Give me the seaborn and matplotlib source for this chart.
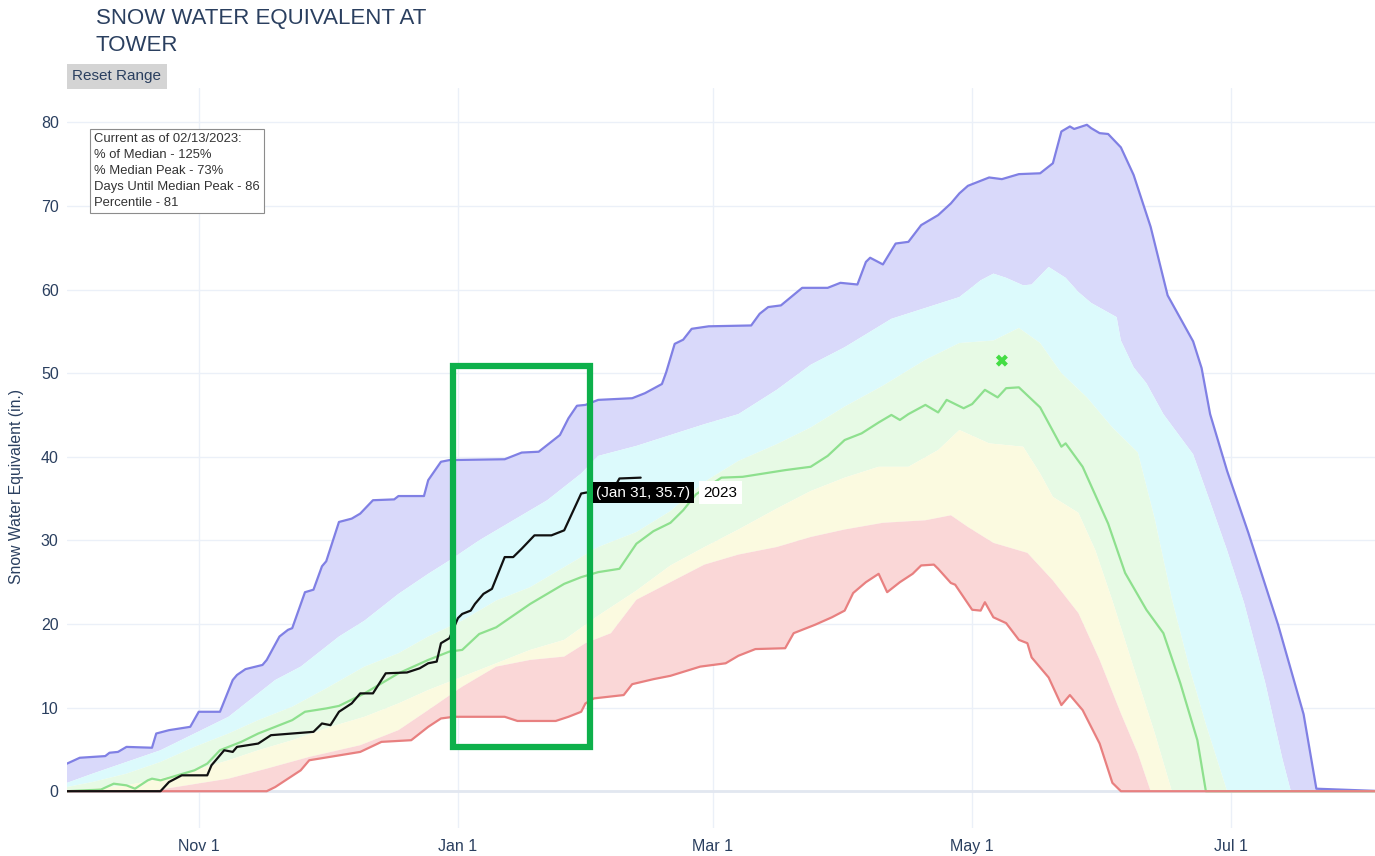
import numpy as np
import pandas as pd
import matplotlib
matplotlib.use("Agg")
import matplotlib.pyplot as plt
import matplotlib.dates as mdates
from matplotlib.patches import Rectangle
import seaborn as sns

# days counted from Oct 1 of the water year (plotted on a leap-year calendar)
max_day = [0, 3, 9, 10, 12, 14, 20, 21, 24, 29, 31, 36, 39, 40, 42, 46, 47, 50, 52, 53,
           56, 58, 60, 61, 64, 67, 69, 72, 77, 78, 84, 85, 88, 90, 103, 107, 111, 113, 116, 118,
           120, 122, 125, 133, 136, 140, 141, 143, 145, 147, 151, 161, 163, 165, 168, 173, 179, 182, 186, 188,
           189, 192, 195, 198, 201, 205, 208, 210, 212, 217, 220, 224, 229, 232, 234, 236, 237, 240, 241, 243,
           245, 248, 251, 255, 259, 265, 267, 269, 273, 278, 285, 291, 294, 310]
max_swe = [3.3, 4.0, 4.2, 4.6, 4.7, 5.3, 5.2, 6.9, 7.3, 7.7, 9.5, 9.5, 13.3, 13.9, 14.6, 15.1, 15.7, 18.5, 19.3, 19.5,
           23.8, 24.1, 26.9, 27.5, 32.2, 32.6, 33.2, 34.8, 34.9, 35.3, 35.3, 37.2, 39.4, 39.6, 39.7, 40.5, 40.6, 41.4, 42.6, 44.6,
           46.1, 46.2, 46.8, 47.0, 47.6, 48.7, 50.1, 53.5, 54.0, 55.3, 55.6, 55.7, 57.1, 57.9, 58.1, 60.2, 60.2, 60.8, 60.6, 63.3,
           63.8, 63.0, 65.5, 65.7, 67.7, 68.9, 70.3, 71.5, 72.4, 73.4, 73.2, 73.8, 73.9, 75.1, 78.9, 79.5, 79.2, 79.7, 79.3, 78.7,
           78.6, 77.0, 73.7, 67.5, 59.3, 53.8, 50.6, 45.1, 38.3, 30.9, 19.9, 9.2, 0.3, 0.0]

p90_day = [0, 6, 14, 22, 30, 38, 44, 49, 55, 60, 64, 70, 78, 85, 90, 97, 105, 113, 121, 125,
           134, 142, 150, 158, 167, 175, 183, 194, 202, 210, 215, 218, 221, 225, 227, 231, 235, 238, 241, 247,
           248, 251, 254, 258, 265, 269, 273, 277, 282, 286, 288, 310]
p90_swe = [1.0, 2.1, 3.5, 4.9, 6.9, 8.9, 11.3, 13.3, 14.9, 16.9, 18.5, 20.4, 23.6, 26.0, 27.6, 30.0, 32.4, 34.8, 38.0, 40.1,
           41.3, 42.6, 43.9, 45.1, 48.0, 51.0, 53.1, 56.5, 57.8, 59.1, 61.1, 61.9, 61.4, 60.5, 60.6, 62.7, 61.4, 59.7, 58.4, 56.7,
           53.9, 50.7, 48.8, 45.1, 40.3, 34.6, 28.8, 22.5, 12.9, 3.9, 0.0, 0.0]

p70_day = [0, 6, 14, 22, 30, 38, 45, 53, 61, 70, 78, 85, 93, 101, 109, 117, 125, 134, 142, 150,
           158, 167, 175, 183, 192, 202, 210, 218, 224, 229, 234, 240, 246, 252, 256, 260, 264, 268, 273, 310]
p70_swe = [0.5, 1.1, 2.1, 3.5, 5.3, 6.9, 8.5, 10.1, 12.3, 14.9, 16.5, 18.5, 20.4, 22.8, 24.4, 26.8, 29.2, 31.0, 33.5, 37.0,
           39.5, 41.5, 43.5, 46.0, 48.5, 51.6, 53.6, 53.9, 55.4, 53.6, 50.0, 47.1, 43.5, 40.5, 32.5, 23.0, 15.0, 8.0, 0.0, 0.0]

p30_day = [0, 14, 22, 30, 38, 45, 53, 62, 70, 78, 85, 93, 101, 109, 117, 125, 134, 142, 150, 158,
           167, 175, 183, 191, 198, 205, 210, 217, 225, 229, 232, 238, 242, 246, 251, 256, 260, 310]
p30_swe = [0.0, 0.7, 1.5, 2.5, 3.7, 4.9, 6.1, 7.7, 8.9, 10.5, 12.1, 13.7, 15.3, 16.9, 18.1, 21.0, 24.0, 27.0, 29.2, 31.3,
           33.8, 35.9, 37.5, 38.8, 38.8, 40.8, 43.2, 41.6, 41.2, 38.0, 35.2, 33.3, 28.8, 22.8, 14.8, 6.9, 0.0, 0.0]

p10_day = [0, 18, 22, 38, 47, 57, 69, 78, 85, 93, 101, 109, 117, 122, 128, 134, 142, 150, 158, 167,
           175, 183, 192, 202, 208, 212, 218, 226, 232, 238, 243, 248, 252, 255, 310]
p10_swe = [0.0, 0.0, 0.2, 1.5, 2.7, 4.1, 5.5, 7.3, 9.7, 12.5, 14.9, 15.7, 16.1, 17.7, 18.9, 22.9, 25.0, 27.1, 28.3, 29.2,
           30.4, 31.3, 32.1, 32.4, 33.0, 31.6, 29.7, 28.5, 25.2, 21.3, 15.7, 9.3, 4.5, 0.0, 0.0]

median_day = [0, 8, 11, 14, 16, 19, 20, 22, 26, 30, 33, 36, 41, 45, 49, 53, 56, 61, 64, 70,
              78, 85, 90, 93, 97, 101, 105, 109, 113, 117, 121, 125, 130, 134, 138, 142, 145, 148, 154, 159,
              169, 175, 179, 183, 187, 191, 194, 196, 198, 202, 205, 207, 211, 213, 216, 219, 221, 224, 229, 234,
              235, 239, 245, 249, 254, 258, 262, 266, 268, 310]
median_swe = [0.0, 0.2, 0.9, 0.7, 0.3, 1.3, 1.5, 1.3, 1.9, 2.5, 3.3, 4.9, 5.9, 6.9, 7.7, 8.5, 9.5, 9.9, 10.2, 11.7,
              14.1, 15.7, 16.7, 16.9, 18.8, 19.6, 21.0, 22.4, 23.6, 24.8, 25.6, 26.2, 26.6, 29.6, 31.1, 32.1, 33.6, 35.5, 37.5, 37.6,
              38.4, 38.8, 40.1, 42.0, 42.8, 44.1, 45.0, 44.4, 45.1, 46.2, 45.3, 46.8, 45.8, 46.3, 48.0, 47.1, 48.2, 48.3, 45.9, 41.2,
              41.6, 38.8, 32.0, 26.1, 21.7, 18.9, 12.9, 6.1, 0.0, 0.0]

min_day = [0, 47, 49, 55, 57, 69, 74, 81, 85, 88, 91, 103, 106, 115, 118, 121, 122, 124, 131, 133,
           138, 142, 149, 155, 158, 162, 169, 171, 176, 180, 183, 185, 188, 191, 193, 196, 199, 201, 204, 205,
           208, 209, 213, 215, 216, 218, 221, 224, 226, 227, 231, 234, 236, 239, 243, 246, 248, 310]
min_swe = [0.0, 0.0, 0.5, 2.5, 3.7, 4.7, 5.9, 6.1, 7.7, 8.7, 8.9, 8.9, 8.4, 8.4, 8.9, 9.5, 10.5, 11.1, 11.5, 12.8,
           13.4, 13.8, 14.9, 15.3, 16.2, 17.0, 17.1, 18.9, 19.9, 20.8, 21.6, 23.7, 25.0, 26.0, 23.8, 25.0, 26.0, 27.0, 27.1, 26.6,
           24.9, 24.7, 21.7, 21.6, 22.6, 20.8, 20.1, 18.1, 17.7, 16.0, 13.6, 10.3, 11.5, 9.7, 5.7, 1.0, 0.0, 0.0]

wy2023_day = [0, 22, 24, 27, 33, 34, 37, 39, 40, 45, 48, 58, 60, 62, 64, 67, 69, 72, 75, 80,
              83, 85, 87, 88, 90, 92, 93, 95, 96, 98, 100, 103, 105, 107, 110, 114, 117, 121, 122, 126,
              129, 130, 135]
wy2023_swe = [0.0, 0.0, 1.1, 1.9, 1.9, 3.1, 4.9, 4.7, 5.3, 5.7, 6.7, 7.1, 8.1, 7.9, 9.5, 10.5, 11.7, 11.7, 14.1, 14.2,
              14.7, 15.3, 15.5, 17.7, 18.3, 20.7, 21.2, 21.6, 22.4, 23.6, 24.2, 28.0, 28.0, 29.0, 30.6, 30.6, 31.2, 35.6, 35.7, 36.0,
              36.5, 37.4, 37.5]

peak_day, peak_swe = 220, 51.5          # green x marker
hover_day, hover_swe = 122, 35.7        # Jan 31 hover label
box_day = [90.8, 123.1]                 # green highlight box
box_swe = [5.3, 50.8]

tick_day = [31, 92, 152, 213, 274]
tick_text = ['Nov 1', 'Jan 1', 'Mar 1', 'May 1', 'Jul 1']

info_lines = ['Current as of 02/13/2023:', '% of Median - 125%', '% Median Peak - 73%',
              'Days Until Median Peak - 86', 'Percentile - 81']

base = pd.Timestamp('2019-10-01')


def to_dates(days):
    return base + pd.to_timedelta(np.asarray(days, dtype=float), unit='D')


def to_num(days):
    return mdates.date2num(to_dates(days))


sns.set_theme(style="white")
plt.rcParams['font.family'] = ['Liberation Sans', 'DejaVu Sans']
txt = '#2a3f5f'

fig = plt.figure(figsize=(13.75, 8.56), dpi=100)
ax = fig.add_axes([67 / 1375, 28 / 856, 1308 / 1375, 740 / 856])


def band(up_d, up_v, lo_d, lo_v, color):
    xs = np.concatenate([to_num(up_d), to_num(lo_d)[::-1]])
    ys = np.concatenate([up_v, np.asarray(lo_v)[::-1]])
    ax.fill(xs, ys, color=color, lw=0, zorder=1)


band(max_day, max_swe, p90_day, p90_swe, '#d9d9fa')
band(p90_day, p90_swe, p70_day, p70_swe, '#dcfafc')
band(p70_day, p70_swe, p30_day, p30_swe, '#e7fae5')
band(p30_day, p30_swe, p10_day, p10_swe, '#fbfae0')
band(p10_day, p10_swe, min_day, min_swe, '#fad7d7')

ax.axhline(0, color='#e2e7f0', lw=2, zorder=1.5)

sns.lineplot(x=to_dates(max_day), y=max_swe, ax=ax, color='#8080e4', lw=1.6, estimator=None, zorder=3)
sns.lineplot(x=to_dates(median_day), y=median_swe, ax=ax, color='#8ee08e', lw=1.6, estimator=None, zorder=3)
sns.lineplot(x=to_dates(min_day), y=min_swe, ax=ax, color='#e88080', lw=1.6, estimator=None, zorder=3)
sns.lineplot(x=to_dates(wy2023_day), y=wy2023_swe, ax=ax, color='#111111', lw=1.6, estimator=None, zorder=4)
sns.scatterplot(x=to_dates([peak_day]), y=[peak_swe], ax=ax, marker='X', s=75,
                color='#44dd44', edgecolor='none', zorder=5)

ax.add_patch(Rectangle((to_num([box_day[0]])[0], box_swe[0]), box_day[1] - box_day[0],
                       box_swe[1] - box_swe[0], fill=False, ec='#0db04b', lw=4.5, zorder=6))

hx = to_dates([hover_day])[0]
ax.annotate('(Jan 31, 35.7)', xy=(hx, hover_swe), xytext=(11, 0), textcoords='offset pixels',
            ha='left', va='center', color='white', fontsize=11, zorder=7,
            bbox=dict(boxstyle='square,pad=0.24', fc='black', ec='none'))
ax.annotate('2023', xy=(hx, hover_swe), xytext=(118, 0), textcoords='offset pixels',
            ha='left', va='center', color='black', fontsize=11, zorder=7,
            bbox=dict(boxstyle='square,pad=0.3', fc='white', ec='none'))

ax.set_xlim(to_dates([0])[0], to_dates([307.8])[0])
ax.set_ylim(-4.4, 84.1)
ax.set_xticks(to_dates(tick_day))
ax.set_xticklabels(tick_text)
ax.set_yticks(range(0, 81, 10))
ax.tick_params(axis='both', length=0, labelsize=11.5, labelcolor=txt)
ax.tick_params(axis='x', pad=8)
ax.tick_params(axis='y', pad=6)
ax.grid(True, color='#ebf0f8', lw=1)
ax.set_axisbelow(True)
for s in ax.spines.values():
    s.set_visible(False)
ax.set_xlabel('')
ax.set_ylabel('')

fig.text(17 / 1375, 1 - 487 / 856, 'Snow Water Equivalent (in.)', rotation=90,
         ha='center', va='center', fontsize=11.3, color=txt)
fig.text(96 / 1375, 1 - 8 / 856, 'SNOW WATER EQUIVALENT AT\nTOWER', ha='left', va='top',
         fontsize=16, color=txt, linespacing=1.36)
fig.text(117 / 1375, 1 - 76 / 856, 'Reset Range', ha='center', va='center', fontsize=11,
         color=txt, bbox=dict(boxstyle='square,pad=0.36', fc='#d4d4d4', ec='none'))
fig.text(94 / 1375, 1 - 133 / 856, '\n'.join(info_lines), ha='left', va='top', fontsize=9.4,
         color='#333333', linespacing=1.45,
         bbox=dict(boxstyle='square,pad=0.3', fc='white', ec='#8c8c8c', lw=0.8))

fig.savefig('out.png', dpi=100)
